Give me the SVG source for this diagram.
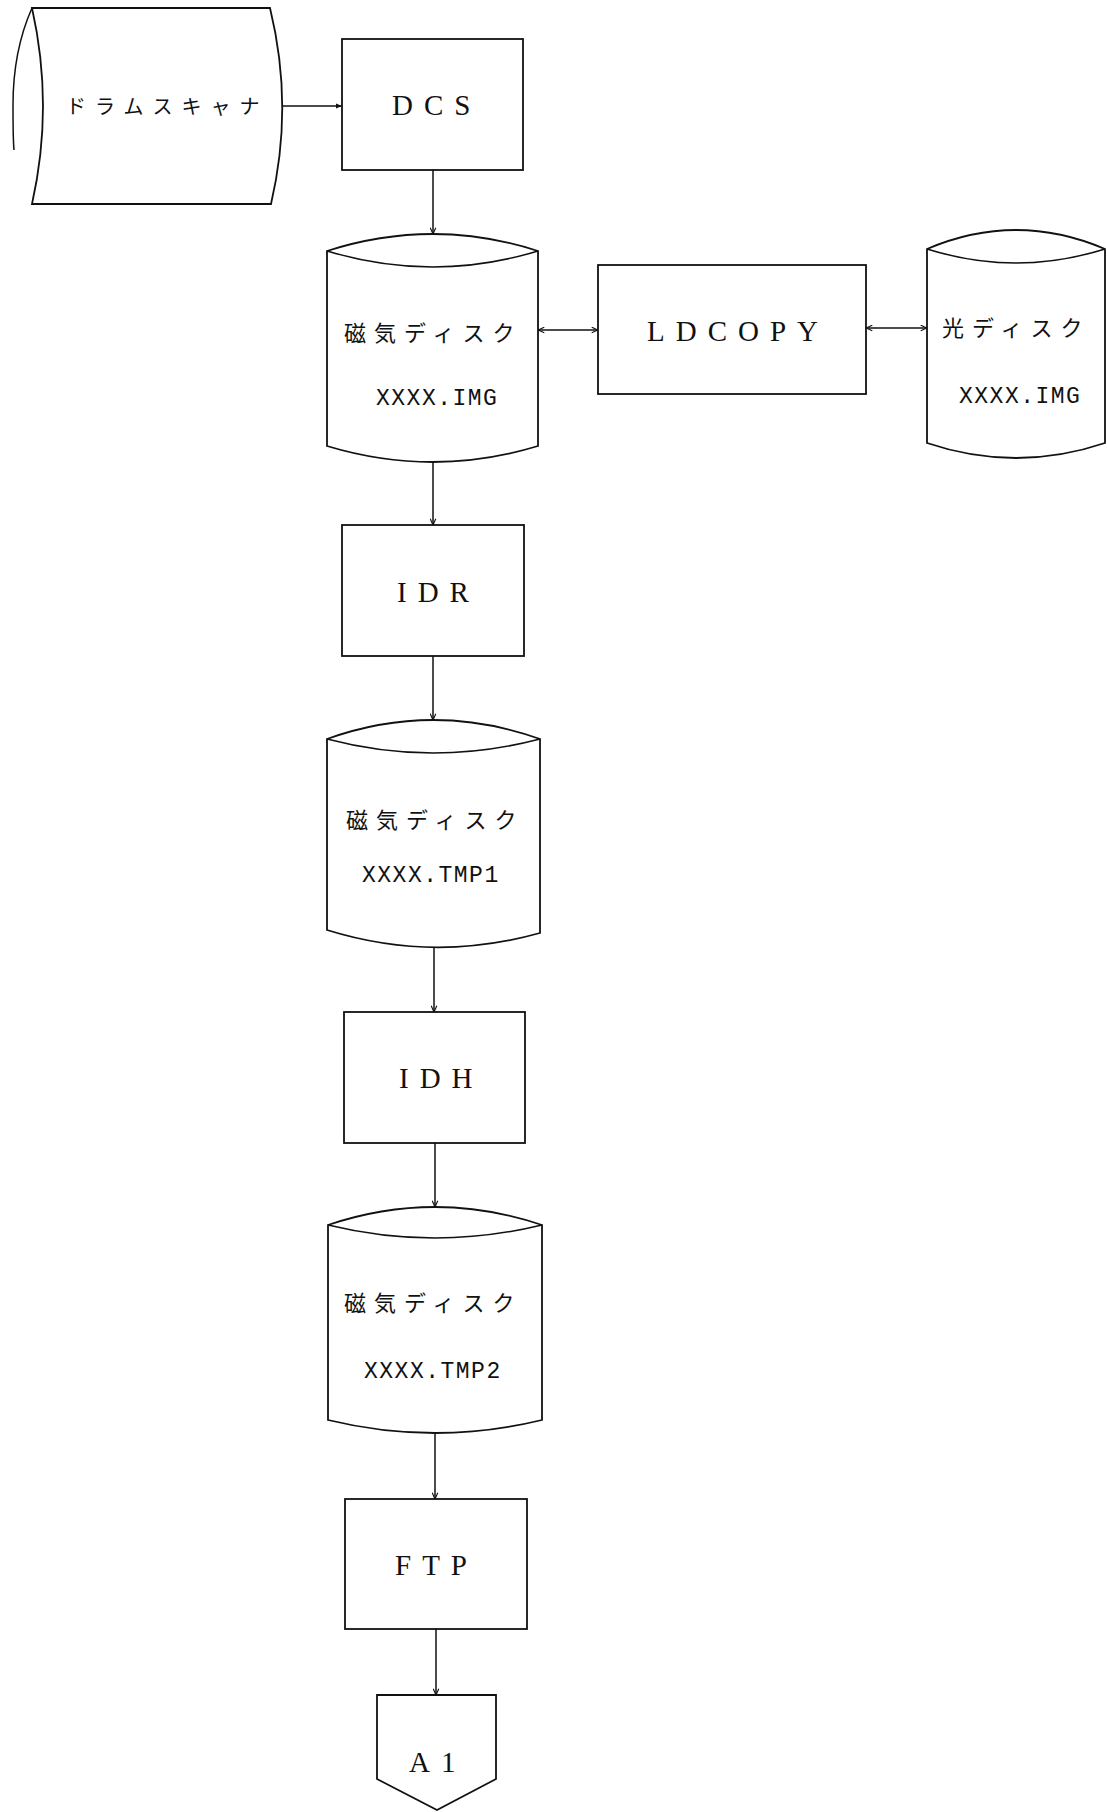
<svg xmlns="http://www.w3.org/2000/svg" width="1107" height="1812" viewBox="0 0 1107 1812">
  <defs>
    <marker id="arr" viewBox="0 0 10 10" refX="10" refY="5" markerWidth="7" markerHeight="7" orient="auto-start-reverse" markerUnits="userSpaceOnUse">
      <path d="M1,1 L10,5 L1,9" fill="none" stroke="#111111" stroke-width="1.6"/>
    </marker>
    <marker id="arrf" viewBox="0 0 10 10" refX="10" refY="5" markerWidth="8" markerHeight="6" orient="auto" markerUnits="userSpaceOnUse">
      <path d="M0,1 L10,5 L0,9 Z" fill="#111111"/>
    </marker>
  </defs>
  <style>
    .shape { fill: #ffffff; stroke: #111111; stroke-width: 1.8; }
    .line { fill: none; stroke: #111111; stroke-width: 1.5; }
    .lbl { font-family: "Liberation Serif", "Times New Roman", serif; font-size: 29px; letter-spacing: 11px; fill: #111111; }
    .jp { font-family: "Noto Sans CJK JP", "Noto Sans", sans-serif; font-size: 22px; letter-spacing: 8px; fill: #111111; }
    .jps { font-family: "Noto Sans CJK JP", "Noto Sans", sans-serif; font-size: 20px; letter-spacing: 9px; fill: #111111; }
    .fn { font-family: "Liberation Mono", "Courier New", monospace; font-size: 23px; letter-spacing: 1.5px; fill: #111111; }
  </style>
  <rect width="1107" height="1812" fill="#ffffff"/>

  <g id="connectors">
    <line class="line" x1="282" y1="106" x2="342" y2="106" marker-end="url(#arrf)"/>
    <line class="line" x1="433" y1="170" x2="433" y2="234" marker-end="url(#arr)"/>
    <line class="line" x1="433" y1="462" x2="433" y2="525" marker-end="url(#arr)"/>
    <line class="line" x1="433" y1="656" x2="433" y2="720" marker-end="url(#arr)"/>
    <line class="line" x1="434" y1="947" x2="434" y2="1012" marker-end="url(#arr)"/>
    <line class="line" x1="435" y1="1143" x2="435" y2="1207" marker-end="url(#arr)"/>
    <line class="line" x1="435" y1="1433" x2="435" y2="1499" marker-end="url(#arr)"/>
    <line class="line" x1="436" y1="1629" x2="436" y2="1695" marker-end="url(#arr)"/>
    <line class="line" x1="538" y1="330" x2="598" y2="330" marker-start="url(#arr)" marker-end="url(#arr)"/>
    <line class="line" x1="866" y1="328" x2="927" y2="328" marker-start="url(#arr)" marker-end="url(#arr)"/>
  </g>

  <g id="drum-scanner">
    <path class="shape" d="M32,8 L270,8 Q294,106 271,204 L32,204 Q54,106 32,8 Z"/>
    <path class="line" d="M32,8 C20,35 13,70 13,105 C13,125 13,140 14,150"/>
    <text class="jps" x="66" y="114">ドラムスキャナ</text>
  </g>

  <g id="dcs">
    <rect class="shape" x="342" y="39" width="181" height="131"/>
    <text class="lbl" x="392" y="115">DCS</text>
  </g>

  <g id="disk1">
    <path class="shape" d="M327,251 Q433,217 538,251 L538,446 Q433,478 327,446 Z"/>
    <path class="line" d="M327,251 Q433,283 538,251"/>
    <text class="jp" x="344" y="341">磁気ディスク</text>
    <text class="fn" x="376" y="405">XXXX.IMG</text>
  </g>

  <g id="ldcopy">
    <rect class="shape" x="598" y="265" width="268" height="129"/>
    <text class="lbl" x="647" y="341">LDCOPY</text>
  </g>

  <g id="optical-disk">
    <path class="shape" d="M927,249 Q1016,211 1105,249 L1105,443 Q1016,473 927,443 Z"/>
    <path class="line" d="M927,249 Q1016,277 1105,249"/>
    <text class="jp" x="942" y="336">光ディスク</text>
    <text class="fn" x="959" y="403">XXXX.IMG</text>
  </g>

  <g id="idr">
    <rect class="shape" x="342" y="525" width="182" height="131"/>
    <text class="lbl" x="397" y="602">IDR</text>
  </g>

  <g id="disk2">
    <path class="shape" d="M327,739 Q433,701 540,739 L540,933 Q433,963 327,930 Z"/>
    <path class="line" d="M327,739 Q433,767 540,739"/>
    <text class="jp" x="346" y="828">磁気ディスク</text>
    <text class="fn" x="362" y="882">XXXX.TMP1</text>
  </g>

  <g id="idh">
    <rect class="shape" x="344" y="1012" width="181" height="131"/>
    <text class="lbl" x="399" y="1088">IDH</text>
  </g>

  <g id="disk3">
    <path class="shape" d="M328,1225 Q435,1189 542,1225 L542,1420 Q435,1446 328,1420 Z"/>
    <path class="line" d="M328,1225 Q435,1251 542,1225"/>
    <text class="jp" x="344" y="1311">磁気ディスク</text>
    <text class="fn" x="364" y="1378">XXXX.TMP2</text>
  </g>

  <g id="ftp">
    <rect class="shape" x="345" y="1499" width="182" height="130"/>
    <text class="lbl" x="395" y="1575">FTP</text>
  </g>

  <g id="a1">
    <path class="shape" d="M377,1695 L496,1695 L496,1779 L437,1810 L377,1779 Z"/>
    <text class="lbl" x="409" y="1772">A1</text>
  </g>
</svg>
